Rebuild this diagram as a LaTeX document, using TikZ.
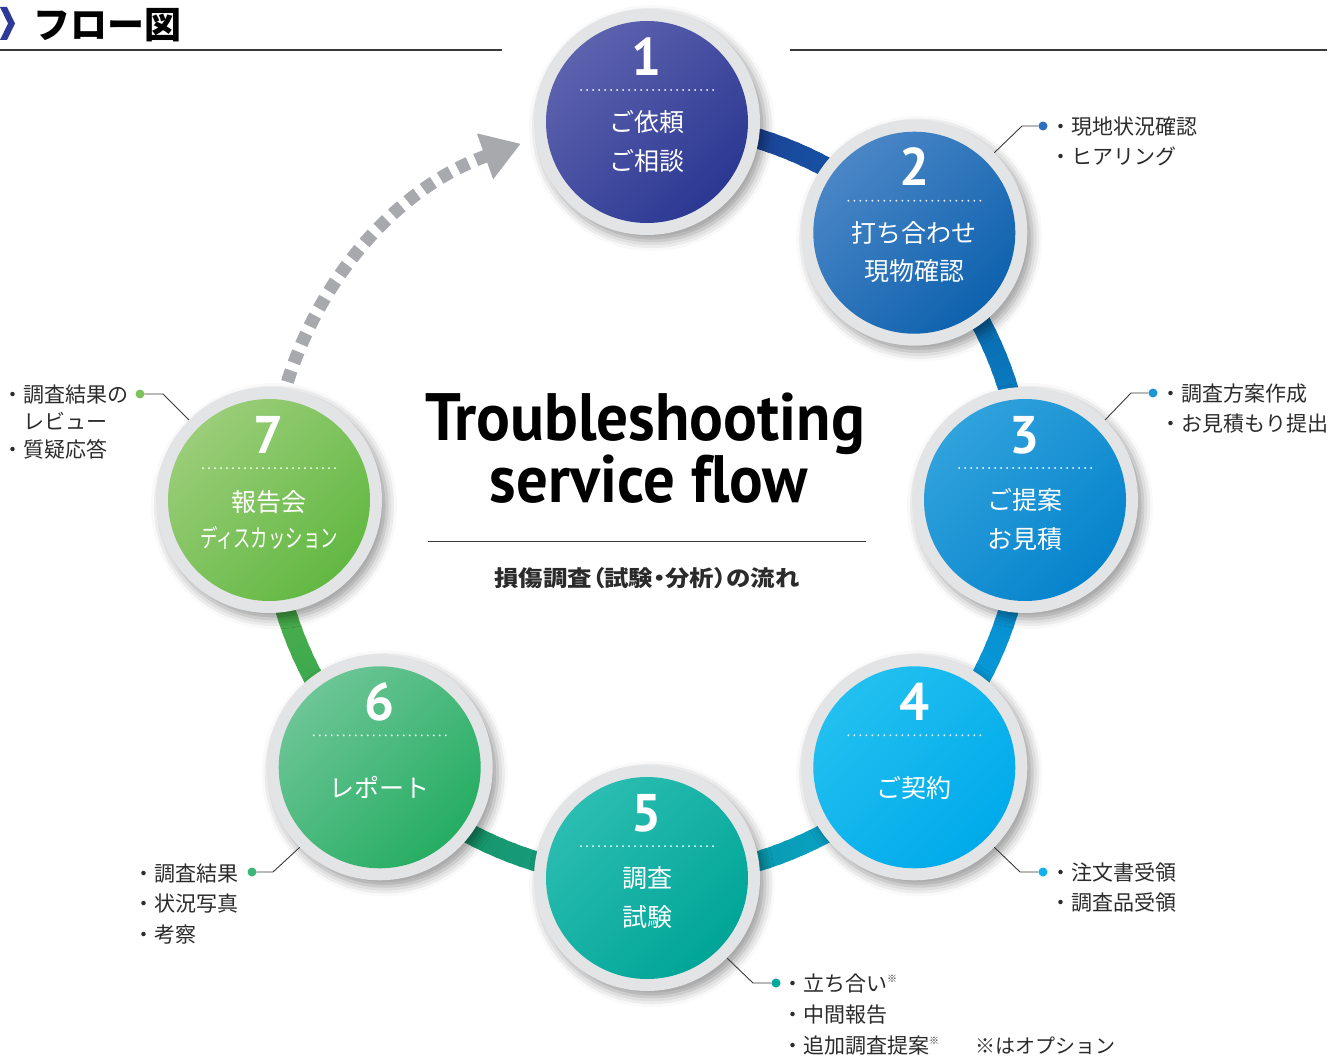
\documentclass[tikz,border=0pt]{standalone}
\usepackage{fontspec}
\setmainfont{Noto Sans CJK JP}
\newfontfamily\titlefont[Ligatures=NoCommon]{PT Sans}
\newfontfamily\jpprop[RawFeature=+palt]{Noto Sans CJK JP}
\usepackage{graphicx}
\usetikzlibrary{calc,arrows.meta,shadows.blur}
\pgfdeclarelayer{bg}
\pgfsetlayers{bg,main}
\definecolor{ringgray}{HTML}{E3E4E6}
\definecolor{txt}{HTML}{2B2B2B}
\definecolor{leadgray}{HTML}{3A3A3A}
\definecolor{arrowgray}{HTML}{A7A9AC}
\definecolor{chev}{HTML}{2E3B96}
\definecolor{rulegray}{HTML}{3A3A3A}
% circle colours
\definecolor{ca1}{HTML}{5D62AE}\definecolor{cb1}{HTML}{2B3892}
\definecolor{ca2}{HTML}{4A86C6}\definecolor{cb2}{HTML}{0E62AE}
\definecolor{ca3}{HTML}{30A2DC}\definecolor{cb3}{HTML}{0683CC}
\definecolor{ca4}{HTML}{22C0F0}\definecolor{cb4}{HTML}{00AAEA}
\definecolor{ca5}{HTML}{2BBDB1}\definecolor{cb5}{HTML}{00A598}
\definecolor{ca6}{HTML}{6CC596}\definecolor{cb6}{HTML}{25AD62}
\definecolor{ca7}{HTML}{9ACD78}\definecolor{cb7}{HTML}{62B842}
% ring segment colours
\definecolor{s12a}{HTML}{26318A}\definecolor{s12b}{HTML}{0C64B0}
\definecolor{s23a}{HTML}{0A5598}\definecolor{s23b}{HTML}{0A90D6}
\definecolor{s34a}{HTML}{0A7EC2}\definecolor{s34b}{HTML}{05A9E6}
\definecolor{s45a}{HTML}{05AEE9}\definecolor{s45b}{HTML}{0E8E8A}
\definecolor{s56a}{HTML}{10A596}\definecolor{s56b}{HTML}{1E8C4E}
\definecolor{s67a}{HTML}{2AA456}\definecolor{s67b}{HTML}{5DB244}
% dot colours
\definecolor{d2c}{HTML}{2A6FC0}
\definecolor{d3c}{HTML}{1D96D6}
\definecolor{d4c}{HTML}{10B0EE}
\definecolor{d5c}{HTML}{00A99D}
\definecolor{d6c}{HTML}{3AB878}
\definecolor{d7c}{HTML}{7CC35A}

\newcommand\ringseg[4]{%
  \foreach \i in {0,...,23}{%
    \pgfmathsetmacro\sa{#1+(#2-#1)*\i/24}%
    \pgfmathsetmacro\ea{#1+(#2-#1)*(\i+1.4)/24}%
    \pgfmathsetmacro\pp{100*(\i+0.5)/24}%
    \draw[line width=20pt,color=#4!\pp!#3] ([shift={(\sa:378pt)}]C) arc[start angle=\sa,end angle=\ea,radius=378pt];
  }}

\newcommand\flowstep[6]{%
  \node[ringnode] (#1) at (#2,#3) {};
  \node[disc={#4}{#5}] (#1in) at (#1) {};
  \node[numtext] (#1num) at ($(#1)+(0,-47)$) {#6};
  \draw[dotline] ($(#1)+(-66,-32)$) -- ($(#1)+(66,-32)$);
}

\begin{document}
\begin{tikzpicture}[x=1pt,y=-1pt,
  ringnode/.style={circle, minimum size=226pt, inner sep=0, fill=ringgray,
    blur shadow={shadow xshift=5pt, shadow yshift=-6pt, shadow blur radius=10pt, shadow opacity=40}},
  disc/.style 2 args={circle, minimum size=202pt, inner sep=0, top color=#1, bottom color=#2, shading angle=45},
  numtext/.style={anchor=base, text=white, inner sep=0, font=\titlefont\bfseries\fontsize{53}{53}\selectfont},
  circtext/.style={anchor=base, text=white, inner sep=0, font=\fontsize{25}{25}\selectfont},
  dotline/.style={white, line width=2pt, line cap=round, dash pattern=on 0pt off 6pt},
  leader/.style={draw=leadgray, line width=0.9pt},
  tipdot/.style={circle, inner sep=0, minimum size=9pt},
  note/.style={anchor=base west, inner sep=0, text=txt, font=\fontsize{21}{21}\selectfont},
  dasharrow/.style={draw=arrowgray, line width=13pt, dash pattern=on 12pt off 8pt,
    -{Triangle[length=38pt,width=46pt,fill=arrowgray]}},
]
\useasboundingbox (0,0) rectangle (1341,1057);
\coordinate (C) at (647,500);

% header
\fill[chev] (0,7) -- (7,7) -- (15,23.5) -- (7,40) -- (0,40) -- (8,23.5) -- cycle;
\node[anchor=west, inner sep=0, text=black, font=\bfseries\fontsize{37}{37}\selectfont] (head) at (33,25) {フロー図};
\draw[rulegray, line width=1.2pt] (0,50) -- (502,50);
\draw[rulegray, line width=1.2pt] (790,50) -- (1327,50);

% circles
\flowstep{c1}{647}{122}{ca1}{cb1}{1}
\flowstep{c2}{914.3}{232.7}{ca2}{cb2}{2}
\flowstep{c3}{1025}{500}{ca3}{cb3}{3}
\flowstep{c4}{914.3}{767.3}{ca4}{cb4}{4}
\flowstep{c5}{647}{878}{ca5}{cb5}{5}
\flowstep{c6}{379.7}{767.3}{ca6}{cb6}{6}
\flowstep{c7}{269}{500}{ca7}{cb7}{7}

% connectors (behind)
\begin{pgfonlayer}{bg}
  \ringseg{90}{45}{s12a}{s12b}
  \ringseg{45}{0}{s23a}{s23b}
  \ringseg{0}{-45}{s34a}{s34b}
  \ringseg{-45}{-90}{s45a}{s45b}
  \ringseg{-90}{-135}{s56a}{s56b}
  \ringseg{-135}{-180}{s67a}{s67b}
  \draw[dasharrow] (c7.center) arc[start angle=180,end angle=109.5,radius=378pt];
\end{pgfonlayer}

% circle texts
\node[circtext] (t1a) at ($(c1)+(0,9.5)$) {ご依頼};
\node[circtext] (t1b) at ($(c1)+(0,48.5)$) {ご相談};
\node[circtext] (t2a) at ($(c2)+(0,9.5)$) {打ち合わせ};
\node[circtext] (t2b) at ($(c2)+(0,48)$) {現物確認};
\node[circtext] (t3a) at ($(c3)+(0,9.5)$) {ご提案};
\node[circtext] (t3b) at ($(c3)+(0,48)$) {お見積};
\node[circtext] (t4a) at ($(c4)+(0,30)$) {ご契約};
\node[circtext] (t5a) at ($(c5)+(0,9.5)$) {調査};
\node[circtext] (t5b) at ($(c5)+(0,48)$) {試験};
\node[circtext] (t6a) at ($(c6)+(0,30)$) {レポート};
\node[circtext] (t7a) at ($(c7)+(0,11)$) {報告会};
\node[circtext] (t7b) at ($(c7)+(0,47.5)$) {\resizebox{138pt}{\height}{ディスカッション}};

% title
\node[anchor=base, inner sep=0, text=black] (title1) at (645,440)
  {\titlefont\bfseries\fontsize{67}{67}\selectfont\resizebox{440pt}{\height}{Troubleshooting}};
\node[anchor=base, inner sep=0, text=black] (title2) at (649,502)
  {\titlefont\bfseries\fontsize{67}{67}\selectfont\resizebox{318pt}{\height}{service flow}};
\draw[rulegray, line width=1pt] (428,541) -- (866,541);
\node[inner sep=0, text=txt, font=\jpprop\bfseries\fontsize{22}{22}\selectfont] (sub) at (647,578)
  {\resizebox{305pt}{\height}{損傷調査（試験・分析）の流れ}};

% annotations
\node[tipdot, fill=d2c] (d2) at (1043,126) {};
\coordinate (e2) at (1022,126);
\draw[leader] (c2.45) -- (e2) -- (d2);
\node[note] (n2a) at (1050,134) {・現地状況確認};
\node[note] (n2b) at (1050,164) {・ヒアリング};

\node[tipdot, fill=d3c] (d3) at (1153,393) {};
\coordinate (e3) at (1131,393);
\draw[leader] (c3.45) -- (e3) -- (d3);
\node[note] (n3a) at (1160,401) {・調査方案作成};
\node[note] (n3b) at (1160,431) {・お見積もり提出};

\node[tipdot, fill=d4c] (d4) at (1043,872) {};
\coordinate (e4) at (1020,872);
\draw[leader] (c4.-45) -- (e4) -- (d4);
\node[note] (n4a) at (1050,880) {・注文書受領};
\node[note] (n4b) at (1050,910) {・調査品受領};

\node[tipdot, fill=d5c] (d5) at (776,983) {};
\coordinate (e5) at (753,983);
\draw[leader] (c5.-45) -- (e5) -- (d5);
\node[note] (n5a) at (782,991) {・立ち合い\raisebox{9pt}{\fontsize{10}{10}\selectfont ※}};
\node[note] (n5b) at (782,1022) {・中間報告};
\node[note] (n5c) at (782,1053) {・追加調査提案\raisebox{9pt}{\fontsize{10}{10}\selectfont ※}};
\node[note, font=\fontsize{20}{20}\selectfont] (n5d) at (975,1053) {※はオプション};

\node[tipdot, fill=d6c] (d6) at (252,872) {};
\coordinate (e6) at (273,872);
\draw[leader] (c6.-135) -- (e6) -- (d6);
\node[note] (n6a) at (133,881) {・調査結果};
\node[note] (n6b) at (133,911) {・状況写真};
\node[note] (n6c) at (133,942) {・考察};

\node[tipdot, fill=d7c] (d7) at (140,394) {};
\coordinate (e7) at (163,394);
\draw[leader] (c7.135) -- (e7) -- (d7);
\node[note] (n7a) at (2,402) {・調査結果の};
\node[note] (n7b) at (2,429) {　レビュー};
\node[note] (n7c) at (2,457) {・質疑応答};
\end{tikzpicture}
\end{document}
